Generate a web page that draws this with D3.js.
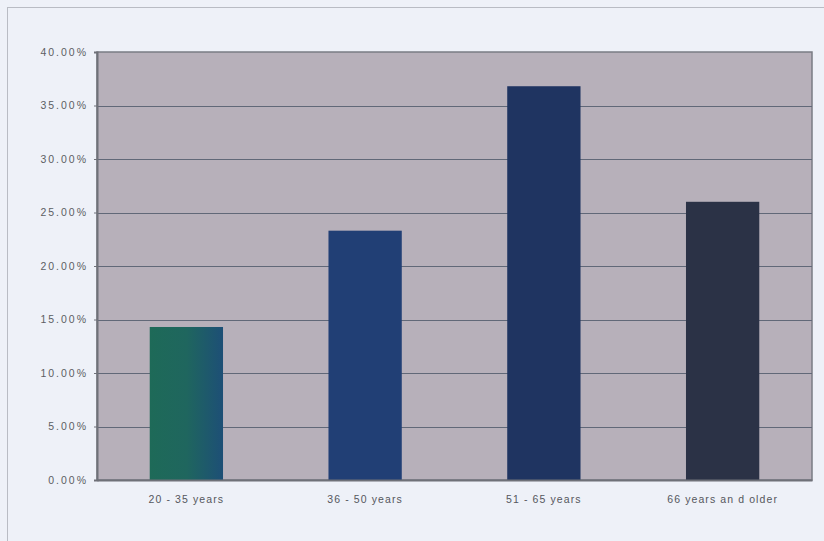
<!DOCTYPE html>
<html>
<head>
<meta charset="utf-8">
<script src="https://cdn.jsdelivr.net/npm/d3@7"></script>
<style>
  html, body { margin: 0; padding: 0; background: #eef1f8; }
  svg { display: block; }
</style>
</head>
<body>
<svg id="chart" width="824" height="541"></svg>
<script>
// Share of respondents by age group
const categories = ["20 - 35 years", "36 - 50 years", "51 - 65 years", "66 years an d older"];
const shares = [14.3, 23.3, 36.8, 26.0];
const yTicks = [0, 5, 10, 15, 20, 25, 30, 35, 40];
const barColors = ["#1f5f6a", "#213f75", "#1f3461", "#2b3246"];

const svg = d3.select("#chart");
const W = 824, H = 541;
const margin = { left: 97, top: 52, right: 12, bottom: 61 };

// page frame
svg.append("rect")
  .attr("x", 7.5).attr("y", 7.5)
  .attr("width", W + 10).attr("height", H + 10)
  .attr("fill", "#eef1f8")
  .attr("stroke", "#b9bcc4").attr("stroke-width", 1);

const x = d3.scaleBand()
  .domain(categories)
  .range([margin.left, W - margin.right])
  .paddingInner(0.59)
  .paddingOuter(0.295);

const y = d3.scaleLinear()
  .domain([0, 40])
  .range([H - margin.bottom, margin.top]);

// plot area
svg.append("rect")
  .attr("x", margin.left).attr("y", y(40))
  .attr("width", W - margin.right - margin.left)
  .attr("height", y(0) - y(40))
  .attr("fill", "#b7b0ba")
  .attr("stroke", "#7a7c84").attr("stroke-width", 1.5);

// gridlines
svg.append("g")
  .selectAll("line")
  .data(yTicks.filter(t => t > 0 && t < 40))
  .join("line")
  .attr("x1", margin.left).attr("x2", W - margin.right)
  .attr("y1", d => Math.round(y(d)) + 0.5).attr("y2", d => Math.round(y(d)) + 0.5)
  .attr("stroke", "#616878").attr("stroke-width", 1.2);

// gradient for first bar (green to teal-blue)
const defs = svg.append("defs");
const g1 = defs.append("linearGradient").attr("id", "bar0").attr("x1", "0").attr("x2", "1");
g1.append("stop").attr("offset", "0").attr("stop-color", "#1e6a58");
g1.append("stop").attr("offset", "0.5").attr("stop-color", "#1f665e");
g1.append("stop").attr("offset", "1").attr("stop-color", "#1d4f76");

// bars
svg.append("g")
  .selectAll("rect")
  .data(categories)
  .join("rect")
  .attr("x", d => x(d))
  .attr("y", (d, i) => y(shares[i]))
  .attr("width", x.bandwidth())
  .attr("height", (d, i) => y(0) - y(shares[i]))
  .attr("fill", (d, i) => i === 0 ? "url(#bar0)" : barColors[i]);

// y axis
const yAxis = d3.axisLeft(y)
  .tickValues(yTicks)
  .tickSize(3)
  .tickPadding(6)
  .tickFormat(d => d3.format(".2f")(d) + "%");
const ya = svg.append("g")
  .attr("transform", `translate(${margin.left},0)`)
  .call(yAxis);
ya.select(".domain").attr("stroke", "#6f7178").attr("stroke-width", 2);
ya.selectAll(".tick line").attr("stroke", "#6f7178");
ya.selectAll("text")
  .attr("fill", "#5c5e63")
  .style("font-family", "'Liberation Sans', Arial, sans-serif")
  .style("font-size", "10.5px")
  .style("letter-spacing", "2px");

// x axis
const xAxis = d3.axisBottom(x).tickSize(0).tickPadding(16);
const xa = svg.append("g")
  .attr("transform", `translate(0,${y(0)})`)
  .call(xAxis);
xa.select(".domain").attr("stroke", "#6f7178").attr("stroke-width", 2);
xa.selectAll("text")
  .attr("fill", "#55575d")
  .style("font-family", "'Liberation Sans', Arial, sans-serif")
  .style("font-size", "10.5px")
  .style("letter-spacing", "1.1px");
</script>
</body>
</html>
